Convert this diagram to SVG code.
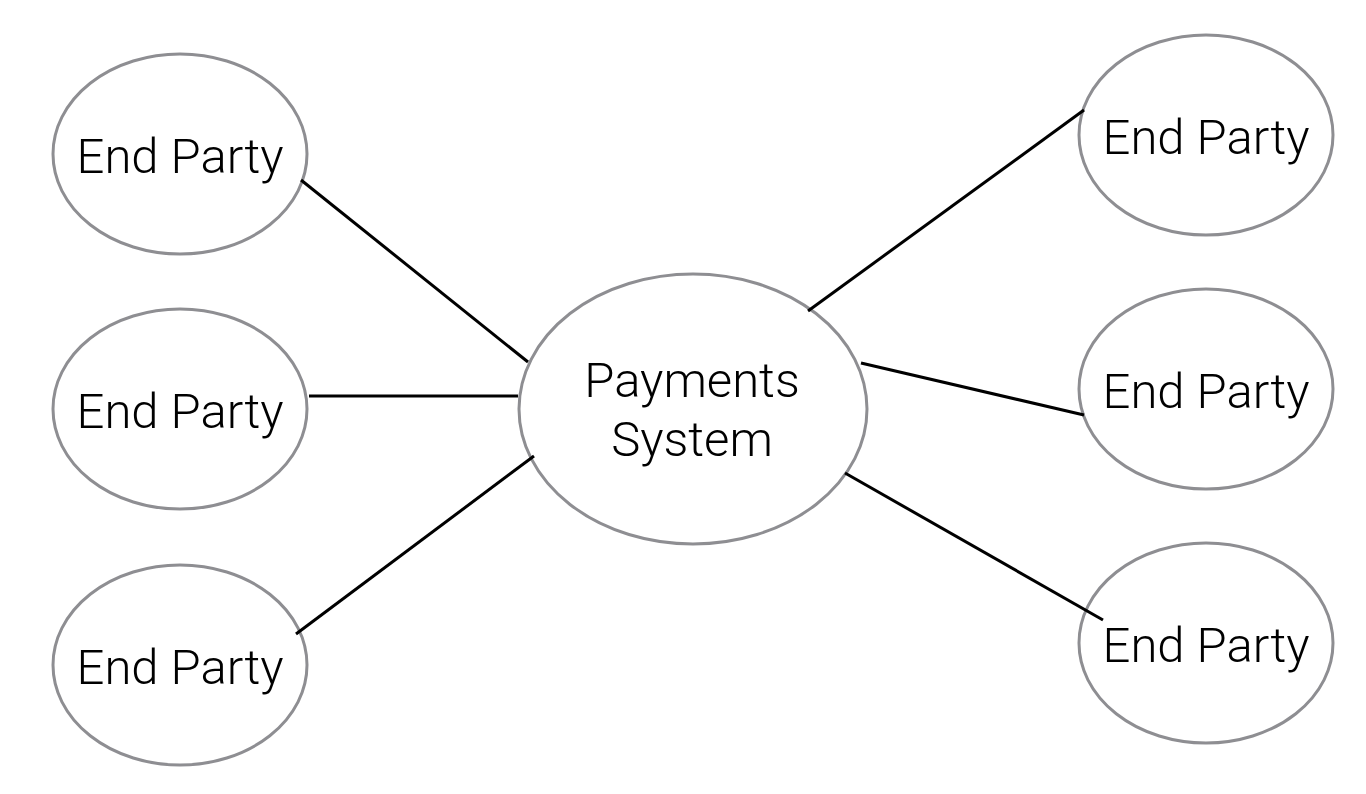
<svg xmlns="http://www.w3.org/2000/svg" width="1366" height="794" viewBox="0 0 1366 794">
<style>
.node{fill:#fff;stroke:#8e8e92;stroke-width:3}
.lbl{font-family:Roboto,"Liberation Sans",Arial,sans-serif;font-weight:300;font-size:49px;fill:#000;text-anchor:middle}
.edge{stroke:#000;stroke-width:3;fill:none}
</style>
<rect width="1366" height="794" fill="#fff"/>
<g id="payments">
<ellipse class="node" cx="693" cy="409" rx="174" ry="135"/>
<text class="lbl" x="692" y="397">Payments</text>
<text class="lbl" x="692" y="456">System</text>
</g>
<g id="left1"><ellipse class="node" cx="180" cy="154" rx="127" ry="100"/><text class="lbl" x="180" y="173">End Party</text></g>
<g id="left2"><ellipse class="node" cx="180" cy="409" rx="127" ry="100"/><text class="lbl" x="180" y="428">End Party</text></g>
<g id="left3"><ellipse class="node" cx="180" cy="665" rx="127" ry="100"/><text class="lbl" x="180" y="684">End Party</text></g>
<g id="right1"><ellipse class="node" cx="1206" cy="135" rx="127" ry="100"/><text class="lbl" x="1206" y="154">End Party</text></g>
<g id="right2"><ellipse class="node" cx="1206" cy="389" rx="127" ry="100"/><text class="lbl" x="1206" y="408">End Party</text></g>
<g id="right3"><ellipse class="node" cx="1206" cy="643" rx="127" ry="100"/><text class="lbl" x="1206" y="662">End Party</text></g>
<g id="connectors">
<line class="edge" x1="301" y1="180" x2="528" y2="362"/>
<line class="edge" x1="309" y1="396" x2="518" y2="396"/>
<line class="edge" x1="296" y1="634" x2="534" y2="456"/>
<line class="edge" x1="808" y1="311" x2="1084" y2="110"/>
<line class="edge" x1="861" y1="363" x2="1084" y2="415"/>
<line class="edge" x1="845" y1="473" x2="1103" y2="620"/>
</g>
</svg>
